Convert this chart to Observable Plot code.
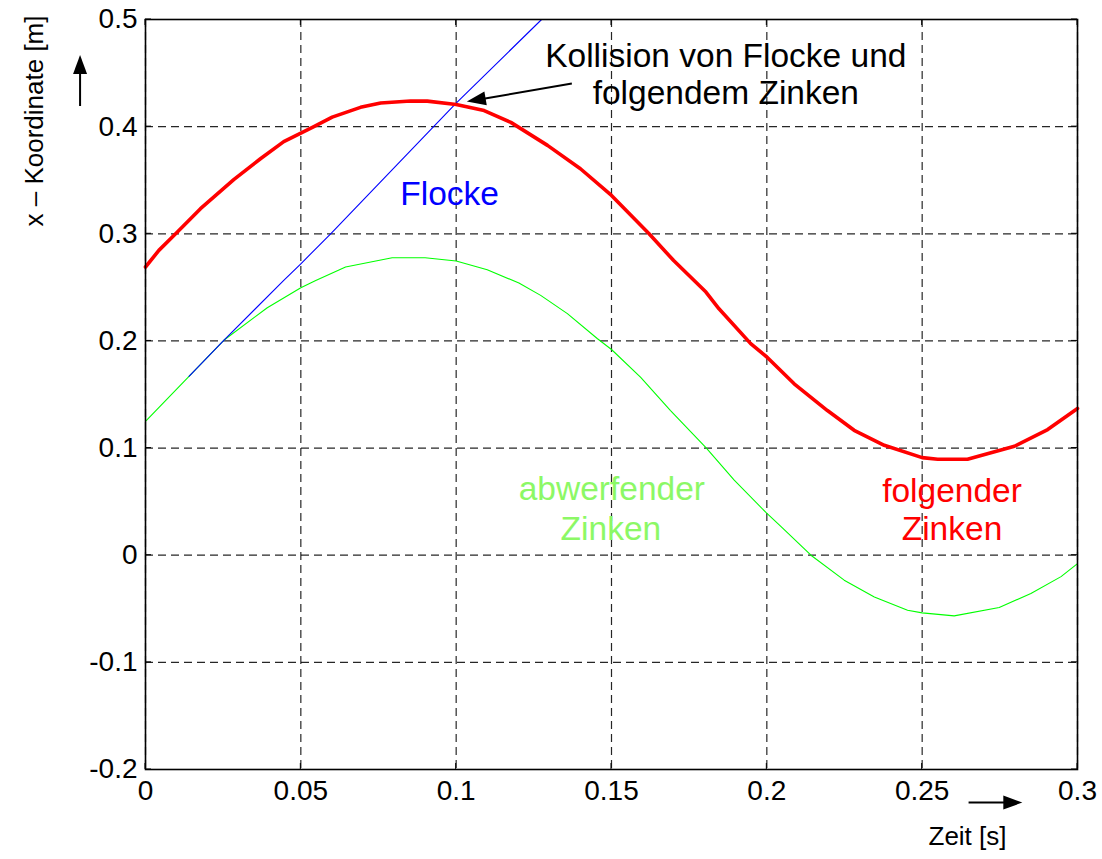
<!DOCTYPE html>
<html><head><meta charset="utf-8">
<script src="https://cdn.jsdelivr.net/npm/d3@7"></script>
<script src="https://cdn.jsdelivr.net/npm/@observablehq/plot@0.6"></script>
<style>body{margin:0;background:#fff} #chart svg{font-family:"Liberation Sans",Arial,sans-serif;display:block}</style>
</head><body><div id="chart"></div>
<script>
// abwerfender Zinken (green)
const greenT = [0, 0.014, 0.0252, 0.0392, 0.05, 0.0548, 0.0644, 0.0794, 0.090, 0.100, 0.110, 0.1202, 0.1272, 0.1358, 0.1455, 0.150, 0.1594, 0.169, 0.1804, 0.1895, 0.1997, 0.2045, 0.2142, 0.2249, 0.2346, 0.2453, 0.25, 0.2603, 0.2748, 0.285, 0.2947, 0.3];
const greenV = [0.125, 0.167, 0.2006, 0.231, 0.2497, 0.2565, 0.269, 0.2777, 0.2777, 0.2746, 0.2665, 0.254, 0.2425, 0.2255, 0.202, 0.192, 0.166, 0.135, 0.1005, 0.070, 0.040, 0.027, 0.0, -0.0233, -0.039, -0.0513, -0.0538, -0.0566, -0.0488, -0.0357, -0.020, -0.0078];
// folgender Zinken (red)
const redT = [0, 0.0043, 0.0097, 0.0177, 0.0284, 0.037, 0.0445, 0.05, 0.0542, 0.0601, 0.0692, 0.0757, 0.0853, 0.0907, 0.1, 0.109, 0.1176, 0.1294, 0.14, 0.15, 0.1621, 0.17, 0.1804, 0.1846, 0.1948, 0.2, 0.2088, 0.2195, 0.2281, 0.2378, 0.25, 0.255, 0.2646, 0.2797, 0.2904, 0.3];
const redV = [0.269, 0.2845, 0.300, 0.3234, 0.3505, 0.370, 0.386, 0.394, 0.400, 0.4089, 0.418, 0.422, 0.424, 0.4238, 0.4207, 0.415, 0.404, 0.3825, 0.3607, 0.3358, 0.300, 0.275, 0.2456, 0.230, 0.1975, 0.185, 0.160, 0.135, 0.1166, 0.1026, 0.0911, 0.0896, 0.0896, 0.1017, 0.1173, 0.137];
// Flocke (blue)
const blueT = [0.014, 0.0252, 0.0445, 0.05, 0.0596, 0.1, 0.1275];
const blueV = [0.167, 0.2006, 0.2565, 0.272, 0.300, 0.422, 0.500];

const xTicks = [0, 0.05, 0.1, 0.15, 0.2, 0.25, 0.3];
const xTickLabels = ["0", "0.05", "0.1", "0.15", "0.2", "0.25", "0.3"];
const yTicks = [-0.2, -0.1, 0, 0.1, 0.2, 0.3, 0.4, 0.5];
const yTickLabels = ["-0.2", "-0.1", "0", "0.1", "0.2", "0.3", "0.4", "0.5"];

// annotation texts (data coordinates)
const annoText = ["Kollision von Flocke und", "folgendem Zinken", "Flocke", "abwerfender", "Zinken", "folgender", "Zinken"];
const annoT = [0.1868, 0.1868, 0.0979, 0.1501, 0.1498, 0.2596, 0.2596];
const annoV = [0.466, 0.4315, 0.3373, 0.0612, 0.0239, 0.0593, 0.0239];
const annoSeries = ["note", "note", "blue", "green", "green", "red", "red"];

// arrows (data coordinates): tail -> tip
const arrowT1 = [0.1374, -0.0209, 0.2651];
const arrowV1 = [0.4398, 0.4188, -0.2313];
const arrowT2 = [0.1036, -0.0209, 0.2824];
const arrowV2 = [0.4229, 0.4664, -0.2313];

const colors = {green: "#00ff00", red: "#ff0000", blue: "#0000ff", note: "#000000"};
const textColors = {green: "#8cf866", red: "#ff0000", blue: "#0000ff", note: "#000000"};

const green = greenT.map((t, i) => ({t, v: greenV[i]}));
const red = redT.map((t, i) => ({t, v: redV[i]}));
const blue = blueT.map((t, i) => ({t, v: blueV[i]}));
const annos = annoText.map((s, i) => ({s, t: annoT[i], v: annoV[i], c: textColors[annoSeries[i]]}));
const arrows = arrowT1.map((t1, i) => ({t1, v1: arrowV1[i], t2: arrowT2[i], v2: arrowV2[i]}));

function decorations(index, scales, values, dimensions) {
  const x = scales.x, y = scales.y;
  const g = d3.create("svg:g");
  const x0 = x(xTicks[0]), x1 = x(xTicks[xTicks.length - 1]);
  const y0 = y(yTicks[0]), y1 = y(yTicks[yTicks.length - 1]);
  const L = 6;
  for (const v of yTicks) {
    g.append("line").attr("x1", x0).attr("x2", x0 + L).attr("y1", y(v)).attr("y2", y(v)).attr("stroke", "#000");
    g.append("line").attr("x1", x1 - L).attr("x2", x1).attr("y1", y(v)).attr("y2", y(v)).attr("stroke", "#000");
  }
  for (const t of xTicks) {
    g.append("line").attr("x1", x(t)).attr("x2", x(t)).attr("y1", y0).attr("y2", y0 - L).attr("stroke", "#000");
    g.append("line").attr("x1", x(t)).attr("x2", x(t)).attr("y1", y1).attr("y2", y1 + L).attr("stroke", "#000");
  }
  for (const a of arrows) {
    const ax = x(a.t1), ay = y(a.v1), bx = x(a.t2), by = y(a.v2);
    const len = Math.hypot(bx - ax, by - ay);
    const ux = (bx - ax) / len, uy = (by - ay) / len;
    const hl = 19, hw = 7;
    const cx = bx - ux * hl, cy = by - uy * hl;
    g.append("line").attr("x1", ax).attr("y1", ay).attr("x2", cx + ux * 2).attr("y2", cy + uy * 2)
      .attr("stroke", "#000").attr("stroke-width", 2);
    g.append("polygon")
      .attr("points", `${bx},${by} ${cx - uy * hw},${cy + ux * hw} ${cx + uy * hw},${cy - ux * hw}`)
      .attr("fill", "#000");
  }
  return g.node();
}

const chart = Plot.plot({
  width: 1102,
  height: 859,
  marginLeft: 145,
  marginRight: 25,
  marginTop: 19,
  marginBottom: 90,
  style: {fontFamily: "'Liberation Sans', Arial, sans-serif", fontSize: "28px", color: "#000", background: "#fff"},
  x: {domain: [0, 0.3]},
  y: {domain: [-0.2, 0.5]},
  marks: [
    Plot.gridX(xTicks, {stroke: "#000", strokeOpacity: 0.85, strokeWidth: 1.2, strokeDasharray: "8,5"}),
    Plot.gridY(yTicks, {stroke: "#000", strokeOpacity: 0.85, strokeWidth: 1.2, strokeDasharray: "8,5"}),
    Plot.line(green, {x: "t", y: "v", stroke: colors.green, strokeWidth: 1.1}),
    Plot.line(blue, {x: "t", y: "v", stroke: colors.blue, strokeWidth: 1.1, clip: true}),
    Plot.line(red, {x: "t", y: "v", stroke: colors.red, strokeWidth: 3.6}),
    Plot.frame({stroke: "#000", strokeWidth: 1.6}),
    Plot.axisX(xTicks, {tickFormat: d => xTickLabels[xTicks.indexOf(d)], tickSize: 0, tickPadding: 11, label: null, fontSize: 28}),
    Plot.axisY(yTicks, {tickFormat: d => yTickLabels[yTicks.indexOf(d)], tickSize: 0, tickPadding: 8, label: null, fontSize: 28}),
    Plot.text(annos, {x: "t", y: "v", text: "s", fill: "c", fontSize: 33.5, lineAnchor: "middle", textAnchor: "middle"}),
    Plot.text(["x – Koordinate [m]"], {frameAnchor: "top-left", rotate: -90, textAnchor: "end", dx: -121, dy: -4, fontSize: 26}),
    Plot.text(["Zeit [s]"], {frameAnchor: "bottom-right", textAnchor: "start", dx: -149, dy: 75, fontSize: 26}),
    decorations
  ]
});
document.getElementById("chart").appendChild(chart);
</script>
</body></html>
